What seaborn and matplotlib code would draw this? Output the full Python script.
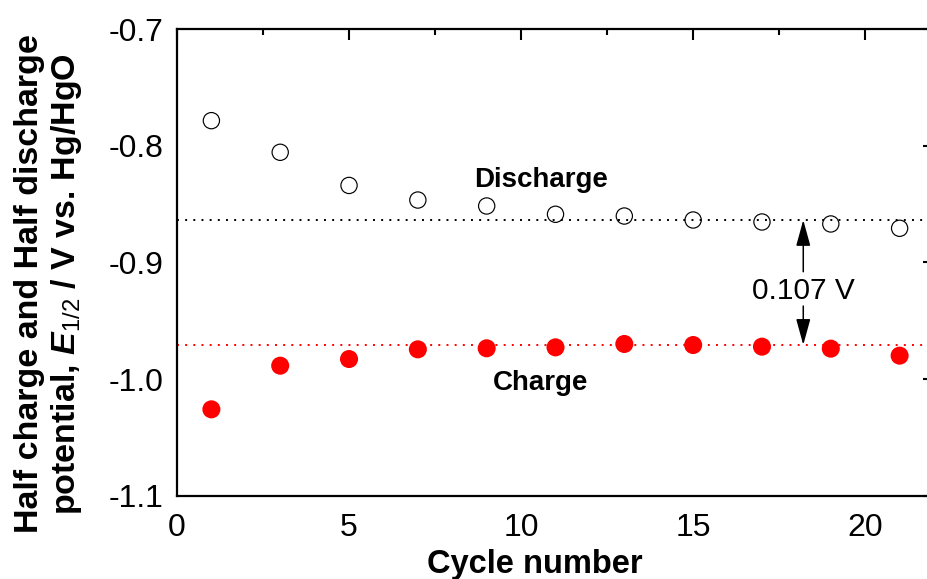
import matplotlib
matplotlib.use("Agg")
import matplotlib.pyplot as plt
from matplotlib.ticker import MultipleLocator, FormatStrFormatter
import seaborn as sns
import pandas as pd

# Half-charge / half-discharge potentials vs. cycle number
cycles = [1, 3, 5, 7, 9, 11, 13, 15, 17, 19, 21]
discharge_e = [-0.7785, -0.8056, -0.8340, -0.8465, -0.8516, -0.8587,
               -0.8602, -0.8636, -0.8653, -0.8670, -0.8707]
charge_e = [-1.0258, -0.9884, -0.9827, -0.9744, -0.9735, -0.9727,
            -0.9698, -0.9707, -0.9721, -0.9738, -0.9798]

# Reference levels of the two plateaus and their gap
discharge_level = -0.8636
charge_level = -0.9706
gap_label = "0.107 V"

x_ticks = [0, 5, 10, 15, 20]
y_ticks = [-1.1, -1.0, -0.9, -0.8, -0.7]

sns.set_style("white")
plt.rcParams["font.family"] = ["Liberation Sans", "DejaVu Sans"]
plt.rcParams["text.color"] = "black"
plt.rcParams["axes.labelcolor"] = "black"
plt.rcParams["mathtext.fontset"] = "custom"
plt.rcParams["mathtext.rm"] = "Liberation Sans"
plt.rcParams["mathtext.it"] = "Liberation Sans:italic"
plt.rcParams["mathtext.bf"] = "Liberation Sans:bold"
plt.rcParams["mathtext.bfit"] = "Liberation Sans:bold:italic"

df = pd.DataFrame({"cycle": cycles, "discharge": discharge_e, "charge": charge_e})

fig = plt.figure(figsize=(9.28, 5.79), dpi=100)
ax = fig.add_axes([0.1907, 0.1434, 1.0065 - 0.1907, 0.9499 - 0.1434])

# reference levels
ax.axhline(discharge_level, color="black", lw=1.4, ls=(0, (1.0, 3.2)), zorder=1)
ax.axhline(charge_level, color="red", lw=1.4, ls=(0, (1.0, 3.2)), zorder=1)

sns.scatterplot(data=df, x="cycle", y="discharge", ax=ax, marker="o", s=137,
                facecolor="none", edgecolor="black", linewidth=0.85, zorder=3)
sns.scatterplot(data=df, x="cycle", y="charge", ax=ax, marker="o", s=169,
                color="#ff0000", edgecolor="none", linewidth=0, zorder=3)
for coll in ax.collections[:1]:
    coll.set_facecolor("none")

# gap annotation
arrow_x = 18.2
text_y = -0.9315
astyle = "-|>,head_length=0.8,head_width=0.22"
ax.annotate("", xy=(arrow_x, discharge_level), xytext=(arrow_x, -0.9079),
            arrowprops=dict(arrowstyle=astyle, color="black", lw=1.1,
                            shrinkA=0, shrinkB=0, mutation_scale=20))
ax.annotate("", xy=(arrow_x, charge_level), xytext=(arrow_x, -0.9373),
            arrowprops=dict(arrowstyle=astyle, color="black", lw=1.1,
                            shrinkA=0, shrinkB=0, mutation_scale=20))
ax.text(arrow_x, text_y, gap_label, ha="center", va="baseline", fontsize=21.5)

ax.text(10.57, -0.8353, "Discharge", ha="center", va="baseline",
        fontsize=20, fontweight="bold")
ax.text(10.57, -1.0092, "Charge", ha="center", va="baseline",
        fontsize=20, fontweight="bold")

ax.set_xlim(0, 22)
ax.set_ylim(-1.1, -0.7)
ax.set_xticks(x_ticks)
ax.set_yticks(y_ticks)
ax.xaxis.set_minor_locator(MultipleLocator(2.5))
ax.yaxis.set_minor_locator(MultipleLocator(0.05))
ax.yaxis.set_major_formatter(FormatStrFormatter("%.1f"))
ax.tick_params(which="both", direction="in", top=True, right=True,
               width=1.5, labelsize=23, colors="black")
ax.tick_params(which="major", length=8)
ax.tick_params(which="minor", length=4.3)
ax.tick_params(axis="x", which="major", pad=12)
ax.tick_params(axis="y", which="major", pad=10)
for sp in ax.spines.values():
    sp.set_visible(True)
    sp.set_color("black")
    sp.set_linewidth(1.6)

ax.set_xlabel("")
ax.set_ylabel("")
fig.text(0.5758, 1 - 573 / 579, "Cycle number", ha="center", va="baseline",
         fontsize=23.5, fontweight="bold")
fig.text(49 / 928, 1 - 284 / 579,
         "Half charge and Half discharge\n"
         r"potential, $\mathbfit{E}_{\mathit{1/2}}$ / V vs. Hg/HgO",
         rotation=90, ha="center", va="center", multialignment="center",
         fontsize=24.5, fontweight="bold", linespacing=1.15)

fig.savefig("out.png", dpi=100)
